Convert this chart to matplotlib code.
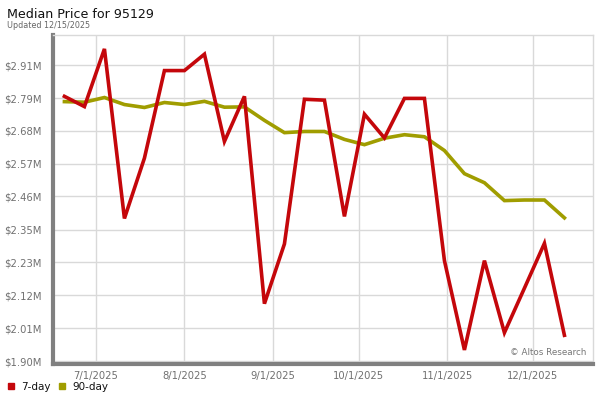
import matplotlib
matplotlib.use("Agg")
import matplotlib.pyplot as plt
import numpy as np
import pandas as pd

title = "Median Price for 95129"
subtitle = "Updated 12/15/2025"
dates = pd.date_range("2025-06-20", periods=26, freq="7D")
seven_day = [2.800, 2.765, 2.962, 2.383, 2.589, 2.888, 2.888, 2.944, 2.646, 2.800,
             2.092, 2.296, 2.790, 2.787, 2.390, 2.739, 2.658, 2.793, 2.793, 2.239,
             1.934, 2.239, 1.993, 2.145, 2.298, 1.984]
ninety_day = [2.782, 2.780, 2.796, 2.772, 2.762, 2.779, 2.772, 2.783, 2.763, 2.764,
              2.718, 2.676, 2.680, 2.680, 2.653, 2.635, 2.657, 2.669, 2.662, 2.615,
              2.536, 2.505, 2.444, 2.446, 2.446, 2.385]
ytick_values = [1.896, 2.008, 2.121, 2.233, 2.345, 2.458, 2.570, 2.682, 2.794, 2.907]
ytick_labels = ["$1.90M", "$2.01M", "$2.12M", "$2.23M", "$2.35M", "$2.46M",
                "$2.57M", "$2.68M", "$2.79M", "$2.91M"]
xtick_dates = ["2025-07-01", "2025-08-01", "2025-09-01", "2025-10-01", "2025-11-01", "2025-12-01"]
xtick_labels = ["7/1/2025", "8/1/2025", "9/1/2025", "10/1/2025", "11/1/2025", "12/1/2025"]
series_names = ["7-day", "90-day"]

RED = "#c4070b"
OLIVE = "#a09d00"
GRID = "#d9d9d9"

plt.rcParams['font.family'] = ['DejaVu Sans']
fig = plt.figure(figsize=(6, 4), dpi=100)
ax = fig.add_axes([53/600, 1 - 364/400, (593-53)/600, (364-35)/400])

ax.plot(dates, ninety_day, color=OLIVE, lw=2.6, solid_joinstyle='miter', zorder=3)
ax.plot(dates, seven_day, color=RED, lw=2.6, solid_joinstyle='miter', zorder=4)

ax.set_xlim(pd.Timestamp("2025-06-16"), pd.Timestamp("2025-12-22"))
ax.set_ylim(1.886, 3.0095)
ax.set_yticks(ytick_values)
ax.set_yticklabels(ytick_labels)
ax.set_xticks(pd.to_datetime(xtick_dates))
ax.set_xticklabels(xtick_labels)
ax.tick_params(axis='both', length=0, labelsize=7.2, colors="#707070")
ax.tick_params(axis='y', pad=8)
ax.tick_params(axis='x', pad=5)
ax.grid(True, color=GRID, lw=1)
ax.set_axisbelow(True)
for s in ['top', 'right']:
    ax.spines[s].set_color(GRID)
    ax.spines[s].set_linewidth(1)
for s in ['left', 'bottom']:
    ax.spines[s].set_color("#808080")
    ax.spines[s].set_linewidth(3)

ax.text(0.987, 0.02, "\u00a9 Altos Research", transform=ax.transAxes, ha='right', va='bottom',
        fontsize=6.3, color="#777777")

fig.text(7/600, 1 - 18.5/400, title, fontsize=9.1, color="#111111", ha='left', va='baseline')
fig.text(7/600, 1 - 28/400, subtitle, fontsize=5.8, color="#666666", ha='left', va='baseline')

# legend
fig.patches.append(plt.Rectangle((8/600, 1 - 389/400), 6/600, 6/400, transform=fig.transFigure,
                                 color=RED, figure=fig))
fig.text(21.5/600, 1 - 390/400, series_names[0], fontsize=7.5, color="#111111", va='baseline')
fig.patches.append(plt.Rectangle((58.7/600, 1 - 389/400), 6/600, 6/400, transform=fig.transFigure,
                                 color=OLIVE, figure=fig))
fig.text(72/600, 1 - 390/400, series_names[1], fontsize=7.5, color="#111111", va='baseline')

fig.savefig("out.png", dpi=100)
